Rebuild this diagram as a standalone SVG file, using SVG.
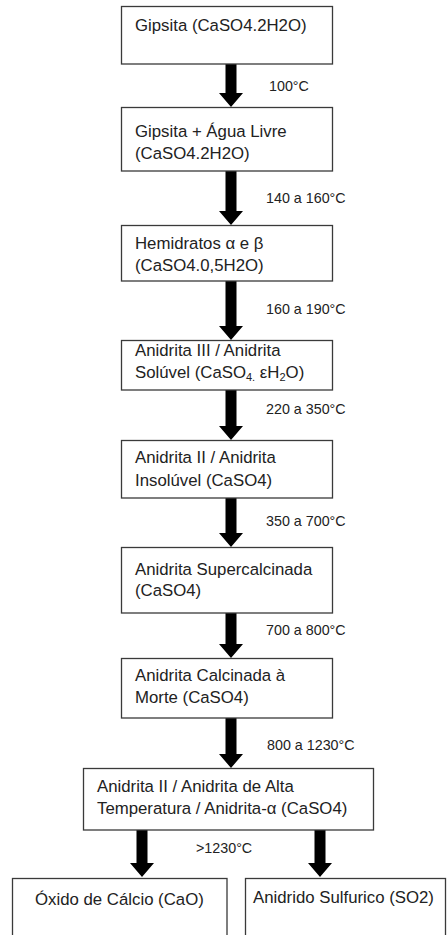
<svg xmlns="http://www.w3.org/2000/svg" width="448" height="935" viewBox="0 0 448 935">
<style>
.box{fill:#fff;stroke:#3a3a3a;stroke-width:1.3}
.t{font-family:"Liberation Sans",Arial,sans-serif;font-size:16.8px;fill:#222}
.l{font-family:"Liberation Sans",Arial,sans-serif;font-size:14.3px;fill:#222}
.arr{fill:#000}
.sub{font-size:11px}
</style>
<rect x="0" y="0" width="448" height="935" fill="#fff"/>
<g id="connectors">
<path class="arr" d="M225.5,64 H236.5 V93 H243 L231,107 L219,93 H225.5 Z"/>
<path class="arr" d="M225.5,171 H236.5 V211 H243 L231,225 L219,211 H225.5 Z"/>
<path class="arr" d="M225.5,281 H236.5 V326 H243 L231,340 L219,326 H225.5 Z"/>
<path class="arr" d="M225.5,390 H236.5 V426 H243 L231,440 L219,426 H225.5 Z"/>
<path class="arr" d="M225.5,498 H236.5 V533 H243 L231,547 L219,533 H225.5 Z"/>
<path class="arr" d="M225.5,613 H236.5 V644 H243 L231,658 L219,644 H225.5 Z"/>
<path class="arr" d="M225.5,718 H236.5 V754 H243 L231,768 L219,754 H225.5 Z"/>
<path class="arr" d="M136.5,830 H147.5 V863 H154 L142,877 L130,863 H136.5 Z"/>
<path class="arr" d="M314.5,830 H325.5 V863 H332 L320,877 L308,863 H314.5 Z"/>
<text class="l" x="269" y="91">100°C</text>
<text class="l" x="266" y="203">140 a 160°C</text>
<text class="l" x="266" y="314">160 a 190°C</text>
<text class="l" x="266" y="414">220 a 350°C</text>
<text class="l" x="266" y="526">350 a 700°C</text>
<text class="l" x="266" y="635">700 a 800°C</text>
<text class="l" x="267" y="750">800 a 1230°C</text>
<text class="l" x="196" y="853">&gt;1230°C</text>
</g>
<g id="n1"><rect class="box" x="121.5" y="6.5" width="211" height="57.5"/><text class="t" x="135" y="31">Gipsita (CaSO4.2H2O)</text></g>
<g id="n2"><rect class="box" x="121.5" y="107.5" width="211" height="63.5"/><text class="t" x="135" y="137">Gipsita + Água Livre</text><text class="t" x="135" y="159">(CaSO4.2H2O)</text></g>
<g id="n3"><rect class="box" x="121.5" y="225.5" width="211" height="55.5"/><text class="t" x="135" y="249">Hemidratos α e β</text><text class="t" x="135" y="271">(CaSO4.0,5H2O)</text></g>
<g id="n4"><rect class="box" x="121.5" y="340.5" width="211" height="49.5"/><text class="t" x="135" y="356">Anidrita III / Anidrita</text><text class="t" x="135" y="378">Solúvel (CaSO<tspan class="sub" dy="3">4.</tspan><tspan dy="-3"> εH</tspan><tspan class="sub" dy="3">2</tspan><tspan dy="-3">O)</tspan></text></g>
<g id="n5"><rect class="box" x="121.5" y="440.5" width="211" height="57.5"/><text class="t" x="135" y="463">Anidrita II / Anidrita</text><text class="t" x="135" y="486">Insolúvel (CaSO4)</text></g>
<g id="n6"><rect class="box" x="121.5" y="547.5" width="211" height="65.5"/><text class="t" x="135" y="575">Anidrita Supercalcinada</text><text class="t" x="135" y="596">(CaSO4)</text></g>
<g id="n7"><rect class="box" x="121.5" y="658.5" width="211" height="59.5"/><text class="t" x="135" y="681">Anidrita Calcinada à</text><text class="t" x="135" y="703">Morte (CaSO4)</text></g>
<g id="n8"><rect class="box" x="83.5" y="768.5" width="290" height="61.5"/><text class="t" x="97" y="792">Anidrita II / Anidrita de Alta</text><text class="t" x="97" y="814">Temperatura / Anidrita-α (CaSO4)</text></g>
<g id="n9"><rect class="box" x="12.5" y="878.5" width="214.5" height="70"/><text class="t" x="35" y="905">Óxido de Cálcio (CaO)</text></g>
<g id="n10"><rect class="box" x="245.5" y="878.5" width="200" height="70"/><text class="t" x="253" y="903">Anidrido Sulfurico (SO2)</text></g>
</svg>
